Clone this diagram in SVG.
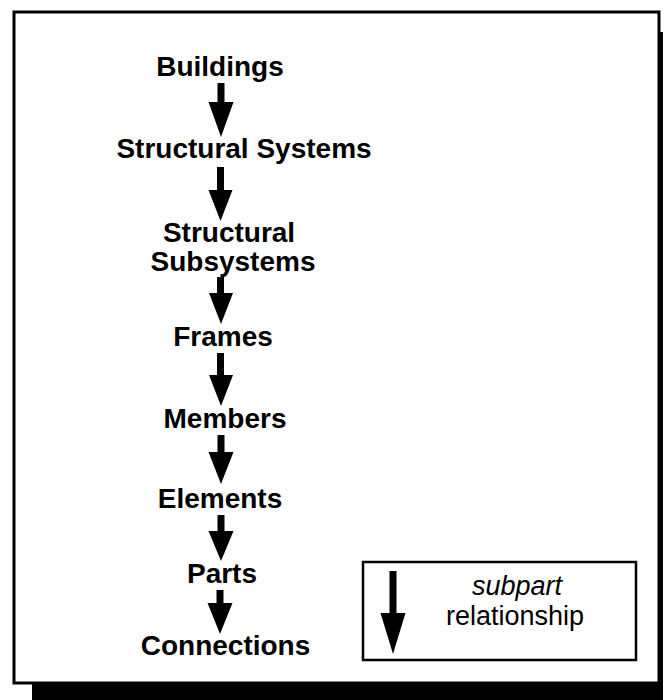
<svg xmlns="http://www.w3.org/2000/svg" width="663" height="700" viewBox="0 0 663 700">
<style>
.lbl{font-family:"Liberation Sans",Arial,Helvetica,sans-serif;font-size:28px;font-weight:bold;fill:#000;text-anchor:middle}
.leg{font-family:"Liberation Sans",Arial,Helvetica,sans-serif;font-size:27px;fill:#000;text-anchor:middle}
.arr{fill:#000;stroke:none}
</style>
<rect x="0" y="0" width="663" height="700" fill="#fff"/>
<g id="frame">
<rect x="32" y="32" width="660" height="680" fill="#000"/>
<rect x="14" y="12" width="645" height="671" fill="#fff" stroke="#000" stroke-width="3"/>
</g>
<g id="connectors">
<polygon class="arr" points="217.5,83 224.5,83 224.5,102 233.5,102 221,137 208.5,102 217.5,102"/>
<polygon class="arr" points="217,167 224,167 224,190 232.5,190 220.5,221 208.5,190 217,190"/>
<polygon class="arr" points="217,277 224,277 224,293 233,293 221,324 209,293 217,293"/>
<polygon class="arr" points="217,353 224,353 224,375 233,375 221,406 209,375 217,375"/>
<polygon class="arr" points="217.5,435 224.5,435 224.5,452 233.5,452 221,484 208.5,452 217.5,452"/>
<polygon class="arr" points="217.5,515 224.5,515 224.5,531 233.5,531 221,561 208.5,531 217.5,531"/>
<polygon class="arr" points="216.5,590 223.5,590 223.5,603 232.5,603 220,634 207.5,603 216.5,603"/>
</g>
<g id="n-buildings"><text class="lbl" x="220" y="76">Buildings</text></g>
<g id="n-structural-systems"><text class="lbl" x="244" y="158">Structural Systems</text></g>
<g id="n-structural-subsystems"><text class="lbl" x="229" y="242">Structural</text><text class="lbl" x="233" y="271">Subsystems</text></g>
<g id="n-frames"><text class="lbl" x="223" y="346">Frames</text></g>
<g id="n-members"><text class="lbl" x="225" y="428">Members</text></g>
<g id="n-elements"><text class="lbl" x="220" y="508">Elements</text></g>
<g id="n-parts"><text class="lbl" x="222" y="583">Parts</text></g>
<g id="n-connections"><text class="lbl" x="225.5" y="655">Connections</text></g>
<g id="legend">
<rect x="363" y="562" width="273" height="98" fill="#fff" stroke="#000" stroke-width="2.5"/>
<polygon class="arr" points="389.5,571 396.5,571 396.5,613 405.5,613 393,654 380.5,613 389.5,613"/>
<text class="leg" x="517" y="595" font-style="italic">subpart</text>
<text class="leg" x="515" y="625">relationship</text>
</g>
</svg>
